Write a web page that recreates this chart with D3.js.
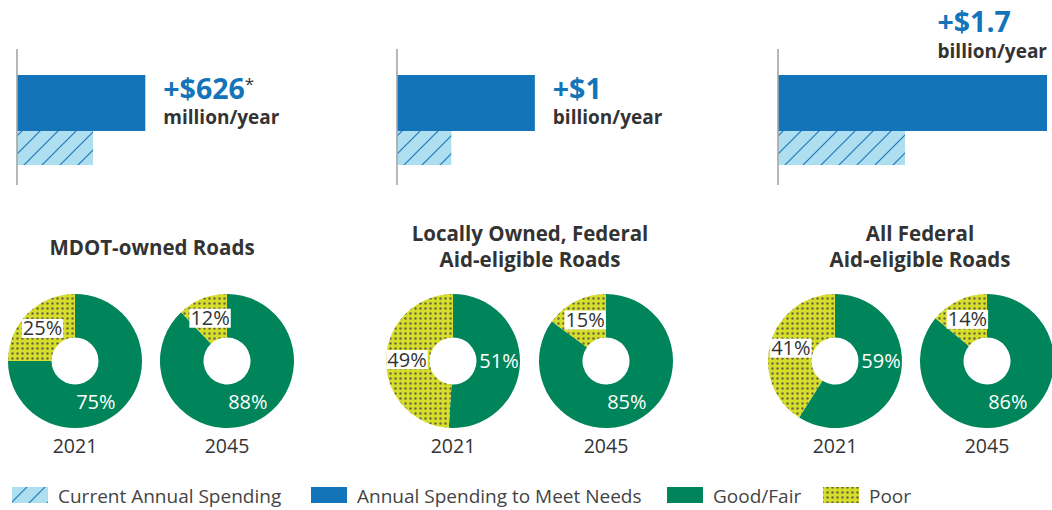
<!DOCTYPE html>
<html>
<head>
<meta charset="utf-8">
<script src="https://cdn.jsdelivr.net/npm/d3@7/dist/d3.min.js"></script>
<style>
  html, body { margin: 0; padding: 0; background: #fff; }
  svg { display: block; font-family: "Open Sans", "Lato", sans-serif; }
</style>
</head>
<body>
<svg id="chart" width="1052" height="510"></svg>
<script>
// ---- Data -------------------------------------------------------------
const panelTitles = [
  ["MDOT-owned Roads"],
  ["Locally Owned, Federal", "Aid-eligible Roads"],
  ["All Federal", "Aid-eligible Roads"]
];
// Spending in $ billions per year
const currentSpending = [0.91, 0.65, 1.52];
const additionalNeed = [0.626, 1.0, 1.7];
const gapAmounts = ["+$626", "+$1", "+$1.7"];
const gapUnits = ["million/year", "billion/year", "billion/year"];
const gapNotes = ["*", "", ""];
const years = ["2021", "2045"];
// Pavement condition shares (%) per panel, [2021, 2045]
const goodFair = [[75, 88], [51, 85], [59, 86]];
const poor = [[25, 12], [49, 15], [41, 14]];
const legendLabels = ["Current Annual Spending", "Annual Spending to Meet Needs", "Good/Fair", "Poor"];

// ---- Layout -----------------------------------------------------------
const W = 1052, H = 510;
const axisX = [17, 397, 778];
const donutX = [[75, 227], [453, 606], [835, 987]];
const titleX = [152, 530, 920];
const donutY = 361, rOuter = 67, rInner = 23.5;
const legendX = [12, 311, 667, 823];

const colors = {
  need: "#1474b9",
  currentFill: "#aedff0",
  hatch: "#1f77bb",
  good: "#00845a",
  poorFill: "#d5de2b",
  poorDot: "#6b6542",
  text: "#333333",
  axis: "#a6a6a6"
};

const svg = d3.select("#chart");
const defs = svg.append("defs");

// diagonal hatch for current spending
const hatch = defs.append("pattern")
  .attr("id", "hatch").attr("patternUnits", "userSpaceOnUse")
  .attr("width", 18).attr("height", 18)
  .attr("patternTransform", "translate(10,0)");
hatch.append("rect").attr("width", 18).attr("height", 18).attr("fill", colors.currentFill);
hatch.append("path")
  .attr("d", "M0,18 L18,0 M-4.5,4.5 L4.5,-4.5 M13.5,22.5 L22.5,13.5")
  .attr("stroke", colors.hatch).attr("stroke-width", 1.2).attr("fill", "none");

// dot grid for poor condition
const dots = defs.append("pattern")
  .attr("id", "dots").attr("patternUnits", "userSpaceOnUse")
  .attr("width", 5).attr("height", 5);
dots.append("rect").attr("width", 5).attr("height", 5).attr("fill", colors.poorFill);
dots.append("circle").attr("cx", 2.5).attr("cy", 2.5).attr("r", 1.2).attr("fill", colors.poorDot);

// ---- Spending bars ----------------------------------------------------
const totalNeed = currentSpending.map((c, i) => c + additionalNeed[i]);
const x = d3.scaleLinear().domain([0, d3.max(totalNeed)]).range([0, 269]);
const barRows = { need: { y: 75, h: 56 }, current: { y: 131, h: 34 } };

currentSpending.forEach((cur, i) => {
  const g = svg.append("g").attr("transform", `translate(${axisX[i]},0)`);

  g.append("rect")
    .attr("x", 0).attr("y", barRows.need.y)
    .attr("width", x(totalNeed[i])).attr("height", barRows.need.h)
    .attr("fill", colors.need);

  g.append("rect")
    .attr("x", 0).attr("y", barRows.current.y)
    .attr("width", x(cur)).attr("height", barRows.current.h)
    .attr("fill", "url(#hatch)");

  g.append("line")
    .attr("x1", 0).attr("x2", 0).attr("y1", 49).attr("y2", 185)
    .attr("stroke", colors.axis).attr("stroke-width", 1.6);

  // gap label: beside the bar, or above its end if there is no room
  const end = x(totalNeed[i]);
  const lbl = g.append("g");
  const amt = lbl.append("text")
    .attr("font-size", 28.5).attr("font-weight", 700).attr("fill", colors.need);
  amt.append("tspan").text(gapAmounts[i]);
  if (gapNotes[i]) {
    amt.append("tspan").text(gapNotes[i])
      .attr("font-size", 17).attr("font-weight", 400).attr("fill", colors.text)
      .attr("dy", -9);
  }
  const unit = lbl.append("text")
    .attr("font-size", 19).attr("font-weight", 700).attr("fill", colors.text)
    .text(gapUnits[i]);
  const unitW = unit.node().getComputedTextLength();
  const beside = axisX[i] + end + 18 + unitW < W;
  if (beside) {
    amt.attr("x", end + 18).attr("y", 99);
    unit.attr("x", end + 18).attr("y", 124);
  } else {
    amt.attr("x", end - unitW).attr("y", 32);
    unit.attr("x", end - unitW).attr("y", 58);
  }
});

// ---- Titles -----------------------------------------------------------
panelTitles.forEach((lines, i) => {
  const t = svg.append("text")
    .attr("text-anchor", "middle").attr("font-size", 20.5).attr("font-weight", 700)
    .attr("fill", colors.text);
  const y0 = lines.length === 1 ? 255 : 241;
  lines.forEach((ln, k) => {
    t.append("tspan").attr("x", titleX[i]).attr("y", y0 + k * 26).text(ln);
  });
});

// ---- Donuts -----------------------------------------------------------
const pie = d3.pie().sort(null).value(d => d.value);
const arc = d3.arc().innerRadius(rInner).outerRadius(rOuter);
const labelR = 46;

goodFair.forEach((pair, i) => {
  pair.forEach((gv, j) => {
    const cx = donutX[i][j];
    const g = svg.append("g").attr("transform", `translate(${cx},${donutY})`);
    const slices = pie([{ key: "good", value: gv }, { key: "poor", value: poor[i][j] }]);

    g.selectAll("path").data(slices).join("path")
      .attr("d", arc)
      .attr("fill", d => d.data.key === "good" ? colors.good : "url(#dots)");

    // good/fair label, white on green
    const good = slices[0];
    const ga = good.data.value < 70 ? Math.PI / 2 : 2.67;
    g.append("text")
      .attr("x", labelR * Math.sin(ga)).attr("y", -labelR * Math.cos(ga))
      .attr("dy", "0.35em").attr("text-anchor", "middle")
      .attr("font-size", 20).attr("fill", "#fff")
      .text(good.data.value + "%");

    // poor label on a white box
    const p = slices[1];
    const pa = Math.max((p.startAngle + p.endAngle) / 2, 1.5 * Math.PI);
    const px = labelR * Math.sin(pa), py = -labelR * Math.cos(pa);
    const box = g.append("rect").attr("fill", "#fff");
    const pt = g.append("text")
      .attr("x", px).attr("y", py).attr("dy", "0.35em").attr("text-anchor", "middle")
      .attr("font-size", 20).attr("fill", colors.text)
      .text(p.data.value + "%");
    const bb = pt.node().getBBox();
    box.attr("x", bb.x - 1).attr("y", py - 9.5).attr("width", bb.width + 2).attr("height", 19);

    // year
    g.append("text")
      .attr("x", 0).attr("y", 453 - donutY).attr("text-anchor", "middle")
      .attr("font-size", 19.5).attr("fill", colors.text)
      .text(years[j]);
  });
});

// ---- Legend -----------------------------------------------------------
const swatchFill = ["url(#hatch)", colors.need, colors.good, "url(#dots)"];
const legend = svg.append("g");
legendLabels.forEach((lab, k) => {
  legend.append("rect")
    .attr("x", legendX[k]).attr("y", 487).attr("width", 36).attr("height", 16)
    .attr("fill", swatchFill[k]);
  legend.append("text")
    .attr("x", legendX[k] + 46).attr("y", 503)
    .attr("font-size", 19).attr("fill", "#444")
    .text(lab);
});
</script>
</body>
</html>
